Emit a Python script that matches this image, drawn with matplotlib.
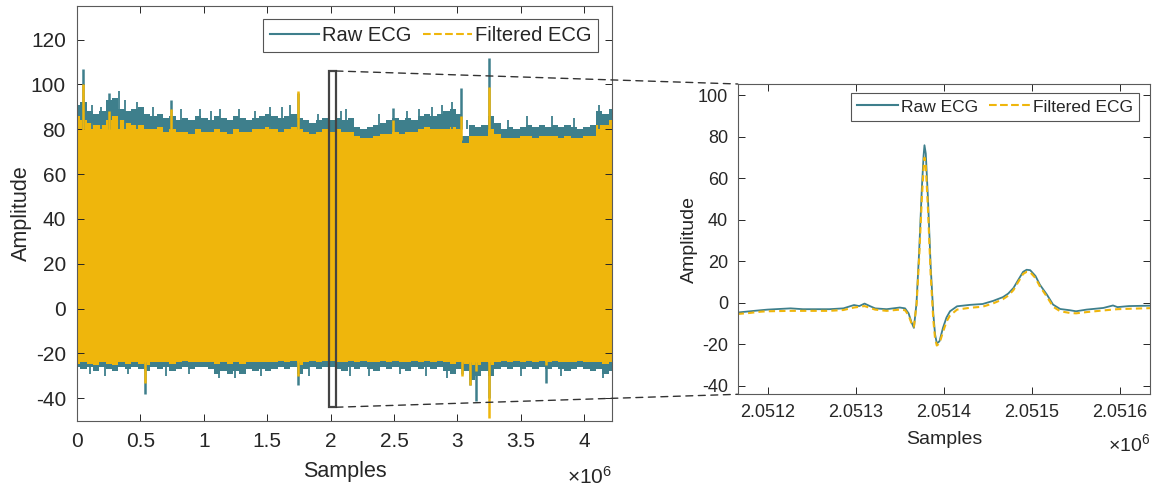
import numpy as np
import matplotlib
matplotlib.use("Agg")
import matplotlib.pyplot as plt
from matplotlib.lines import Line2D
from matplotlib.patches import Rectangle, ConnectionPatch
from matplotlib.ticker import FuncFormatter, MultipleLocator

plt.rcParams['font.family'] = ['Liberation Sans', 'DejaVu Sans']
plt.rcParams['mathtext.fontset'] = 'custom'
plt.rcParams['mathtext.rm'] = 'Liberation Sans'
plt.rcParams['mathtext.it'] = 'Liberation Sans'
plt.rcParams['axes.unicode_minus'] = False
plt.rcParams['text.color'] = '#262626'
plt.rcParams['axes.labelcolor'] = '#262626'
plt.rcParams['xtick.color'] = '#262626'
plt.rcParams['ytick.color'] = '#262626'

# ---------------- data: full recording (envelope) -------------
n_env = 85
raw_top = [91, 92, 88, 87, 88, 93, 94, 89, 88, 89, 90, 87, 86, 87, 85, 86, 84, 85, 84, 86,
           85, 84, 86, 85, 84, 86, 85, 84, 85, 86, 87, 86, 85, 86, 87, 85, 84, 83, 84, 85,
           84, 85, 84, 85, 81, 80, 81, 82, 83, 84, 85, 84, 85, 84, 86, 87, 86, 87, 88, 89,
           87, 77, 82, 81, 82, 86, 83, 80, 81, 80, 81, 82, 81, 82, 81, 82, 81, 82, 81, 80,
           81, 82, 88, 87, 89]
filt_top = [86, 84, 83, 82, 82, 84, 86, 84, 83, 82, 82, 80, 80, 81, 79, 80, 79, 79, 78, 80,
            79, 79, 80, 79, 78, 80, 79, 79, 80, 80, 81, 80, 79, 80, 81, 80, 79, 78, 79, 80,
            79, 80, 79, 79, 77, 76, 76, 77, 78, 78, 79, 78, 79, 79, 80, 81, 80, 80, 80, 81,
            80, 74, 77, 77, 77, 80, 78, 76, 76, 76, 77, 77, 76, 77, 77, 77, 76, 77, 76, 76,
            77, 77, 82, 82, 84]
raw_bot = [-26, -27, -26, -28, -26, -27, -28, -26, -27, -26, -27, -28, -26, -27, -26, -28, -27, -26, -27, -26,
           -26, -27, -29, -28, -29, -28, -29, -27, -28, -27, -28, -27, -26, -27, -26, -29, -27, -26, -27, -26,
           -26, -27, -28, -26, -27, -26, -27, -28, -26, -27, -26, -27, -28, -26, -27, -26, -27, -26, -28, -29,
           -27, -28, -32, -30, -28, -30, -27, -26, -27, -26, -27, -26, -27, -26, -27, -26, -27, -28, -27, -26,
           -27, -28, -27, -29, -28]
filt_bot = [-24.5, -24, -24.5, -25, -24, -24.5, -25, -24, -24.5, -24, -24.5, -25, -24, -24, -24, -24.5, -24, -23.5, -24, -24,
            -24, -24, -24.5, -24, -24.5, -24, -24.5, -24, -24, -24, -24, -24, -23.5, -24, -23.5, -25, -24, -23.5, -24, -23.5,
            -23.5, -24, -24, -23.5, -24, -23.5, -24, -24, -23.5, -24, -23.5, -24, -24, -23.5, -24, -23.5, -24, -23.5, -24, -24.5,
            -24, -24.5, -25, -25, -24, -25, -24, -23.5, -24, -23.5, -24, -23.5, -24, -23.5, -24, -23.5, -24, -24, -24, -23.5,
            -24, -24, -24, -24.5, -24]

# isolated large spikes (sample position, raw extreme, filtered extreme)
spike_up_pos = [0.05e6, 0.25e6, 0.74e6, 1.74e6, 2.49e6, 3.03e6, 3.25e6]
spike_up_raw = [107, 96, 93, 96, 89.5, 98.5, 112]
spike_up_filt = [100, 88, 89, 97, 84, 86, 99]
spike_dn_pos = [0.54e6, 1.74e6, 3.04e6, 3.10e6, 3.15e6, 3.25e6, 3.70e6]
spike_dn_raw = [-38, -34, -29, -34, -41, -40, -33]
spike_dn_filt = [-33, -30, -30, -34, -28, -49, -25]

# small raw-only spikes on the envelope edge
minor_up_pos = [0.12e6, 0.19e6, 0.33e6, 0.38e6, 0.47e6, 0.60e6, 0.82e6, 0.97e6, 1.06e6, 1.13e6,
                1.28e6, 1.40e6, 1.52e6, 1.62e6, 1.68e6, 1.90e6, 2.08e6, 2.12e6, 2.38e6, 2.60e6,
                2.70e6, 2.80e6, 2.88e6, 2.96e6, 3.08e6, 3.40e6, 3.55e6, 3.75e6, 3.92e6, 4.12e6]
minor_up_val = [91, 90, 97, 93, 92, 90, 89, 89, 88, 89,
                89, 88, 90, 90, 91, 87, 88, 89, 87, 88,
                89, 90, 91, 92, 84, 84, 86, 86, 85, 91]
minor_dn_pos = [0.10e6, 0.22e6, 0.40e6, 0.70e6, 0.88e6, 1.12e6, 1.25e6, 1.45e6, 1.83e6, 2.15e6,
                2.30e6, 2.55e6, 2.75e6, 2.92e6, 3.50e6, 3.82e6, 4.15e6]
minor_dn_val = [-29, -30, -29, -30, -29, -31, -31, -30, -30, -30,
                -30, -29, -30, -31, -30, -30, -31]

# ---------------- data: zoomed beat ----------------
beat_x_raw = [2051166, 2051180, 2051192, 2051200, 2051226, 2051240, 2051270, 2051286, 2051292, 2051298,
              2051304, 2051310, 2051316, 2051322, 2051335, 2051350, 2051356, 2051360, 2051363, 2051366,
              2051369, 2051372, 2051375, 2051377, 2051378, 2051379.5, 2051382, 2051385, 2051388, 2051390,
              2051392, 2051395, 2051399, 2051403, 2051407, 2051415, 2051430, 2051444, 2051456, 2051467,
              2051473, 2051479, 2051485, 2051490, 2051494, 2051498, 2051504, 2051509, 2051517, 2051524,
              2051532, 2051543, 2051550, 2051562, 2051581, 2051592, 2051597, 2051610, 2051634]
beat_raw = [-4.6, -4.0, -3.5, -3.2, -2.6, -3.0, -3.0, -2.6, -1.8, -1.0,
            -1.5, -0.3, -1.5, -2.6, -3.0, -2.2, -2.6, -5, -9, -12,
            0, 25, 55, 71, 76, 72, 50, 18, -5, -15,
            -19.5, -18.5, -12, -7, -4, -1.6, -0.9, -0.5, 1, 2.8,
            4.5, 7.2, 11.5, 15, 16, 15.8, 13, 8.8, 4, -0.8,
            -2.9, -3.5, -4.0, -3.2, -2.4, -1.2, -2.0, -1.5, -1.3]
beat_x_filt = [2051166, 2051180, 2051192, 2051200, 2051226, 2051270, 2051286, 2051298, 2051310, 2051322,
               2051335, 2051350, 2051356, 2051360, 2051363, 2051366, 2051369, 2051372, 2051375, 2051377,
               2051378, 2051379.5, 2051382, 2051385, 2051388, 2051390, 2051392, 2051395, 2051399, 2051403,
               2051407, 2051415, 2051430, 2051444, 2051456, 2051467, 2051473, 2051479, 2051485, 2051490,
               2051494, 2051498, 2051504, 2051509, 2051517, 2051524, 2051532, 2051543, 2051550, 2051562,
               2051581, 2051597, 2051610, 2051634]
beat_filt = [-5.3, -4.8, -4.2, -4.0, -3.8, -3.8, -3.4, -2.2, -1.5, -3.2,
             -3.8, -3.2, -3.5, -6, -9.5, -11.5, -1, 22, 50, 65,
             70, 66, 45, 14, -8, -17, -20.5, -19.5, -14, -9,
             -6, -3.2, -2.3, -1.8, -0.2, 1.8, 3.5, 6.2, 10.5, 14,
             15, 14.8, 12, 8, 3, -1.8, -4, -4.8, -5, -4.4,
             -3.6, -3.0, -2.8, -2.5]

# zoom window
zoom_x = [1.99e6, 2.043e6]
zoom_y = [-44, 106]

RAW_C = '#3E7F8C'
FILT_C = '#EFB60C'
SPINE_C = '#5a5a5a'

fig = plt.figure(figsize=(11.53, 4.86), dpi=100)
axL = fig.add_axes([0.0668, 0.1344, 0.464, 0.8533])
axR = fig.add_axes([0.6398, 0.1887, 0.3576, 0.6385])

env_x = np.linspace(0, 4.22e6, n_env)
axL.fill_between(env_x, raw_bot, raw_top, step='mid', color=RAW_C, lw=0)
axL.vlines(minor_up_pos, 80, minor_up_val, color=RAW_C, lw=1.3)
axL.vlines(minor_dn_pos, -25, minor_dn_val, color=RAW_C, lw=1.3)
axL.vlines(spike_up_pos, 80, spike_up_raw, color=RAW_C, lw=1.8)
axL.vlines(spike_dn_pos, -24, spike_dn_raw, color=RAW_C, lw=1.8)
axL.fill_between(env_x, filt_bot, filt_top, step='mid', color=FILT_C, lw=0)
axL.vlines(spike_up_pos, 75, spike_up_filt, color=FILT_C, lw=1.8)
axL.vlines(spike_dn_pos, -20, spike_dn_filt, color=FILT_C, lw=1.8)

axL.set_xlim(0, 4.22e6)
axL.set_ylim(-50, 135)
axL.xaxis.set_major_locator(MultipleLocator(0.5e6))
axL.yaxis.set_major_locator(MultipleLocator(20))
axL.xaxis.set_major_formatter(FuncFormatter(lambda v, p: f"{v/1e6:g}"))
axL.set_xlabel('Samples', fontsize=15.5, labelpad=7)
axL.set_ylabel('Amplitude', fontsize=15.5, labelpad=-1)
axL.text(1.0, -0.135, r'$\times10^{6}$', transform=axL.transAxes, ha='right', va='center', fontsize=15)

rect = Rectangle((zoom_x[0], zoom_y[0]), zoom_x[1] - zoom_x[0], zoom_y[1] - zoom_y[0],
                 fill=False, ec='#444444', lw=1.6, zorder=5)
axL.add_patch(rect)

hl = [Line2D([], [], color=RAW_C, lw=1.5), Line2D([], [], color=FILT_C, lw=1.5, ls='--')]
legL = axL.legend(hl, ['Raw ECG', 'Filtered ECG'], loc='upper right', ncol=2, fontsize=14.5,
                  frameon=True, fancybox=False, framealpha=1, edgecolor='#555555',
                  handlelength=2.4, columnspacing=0.6, handletextpad=0.15, borderpad=0.35,
                  borderaxespad=0, bbox_to_anchor=(0.974, 0.968))
legL.get_frame().set_linewidth(0.8)

axR.plot(beat_x_raw, beat_raw, color=RAW_C, lw=1.3)
axR.plot(beat_x_filt, beat_filt, color=FILT_C, lw=1.5, ls='--', dashes=(3, 2))
axR.set_xlim(2051166, 2051634)
axR.set_ylim(-44, 105.5)
axR.xaxis.set_major_locator(MultipleLocator(100))
axR.yaxis.set_major_locator(MultipleLocator(20))
axR.xaxis.set_major_formatter(FuncFormatter(lambda v, p: f"{v/1e6:.4f}"))
axR.set_xlabel('Samples', fontsize=14, labelpad=7)
axR.set_ylabel('Amplitude', fontsize=14, labelpad=0)
axR.text(1.0, -0.16, r'$\times10^{6}$', transform=axR.transAxes, ha='right', va='center', fontsize=14)
legR = axR.legend(hl, ['Raw ECG', 'Filtered ECG'], loc='upper right', ncol=2, fontsize=12.5,
                  frameon=True, fancybox=False, framealpha=1, edgecolor='#555555',
                  handlelength=2.4, columnspacing=0.6, handletextpad=0.15, borderpad=0.35,
                  borderaxespad=0, bbox_to_anchor=(0.973, 0.970))
legR.get_frame().set_linewidth(0.8)

axL.tick_params(direction='in', top=True, right=True, length=5, width=0.7, labelsize=15, pad=8)
axR.tick_params(direction='in', top=True, right=True, length=5, width=0.7, labelsize=13, pad=7)
for ax in (axL, axR):
    for s in ax.spines.values():
        s.set_color(SPINE_C)
        s.set_linewidth(0.8)

for (ya, yb) in ((zoom_y[1], 1), (zoom_y[0], 0)):
    con = ConnectionPatch(xyA=(zoom_x[1], ya), coordsA=axL.transData,
                          xyB=(0, yb), coordsB=axR.transAxes,
                          ls=(0, (5, 4)), color='#333333', lw=1.0)
    fig.add_artist(con)

fig.savefig('out.png', dpi=100)
